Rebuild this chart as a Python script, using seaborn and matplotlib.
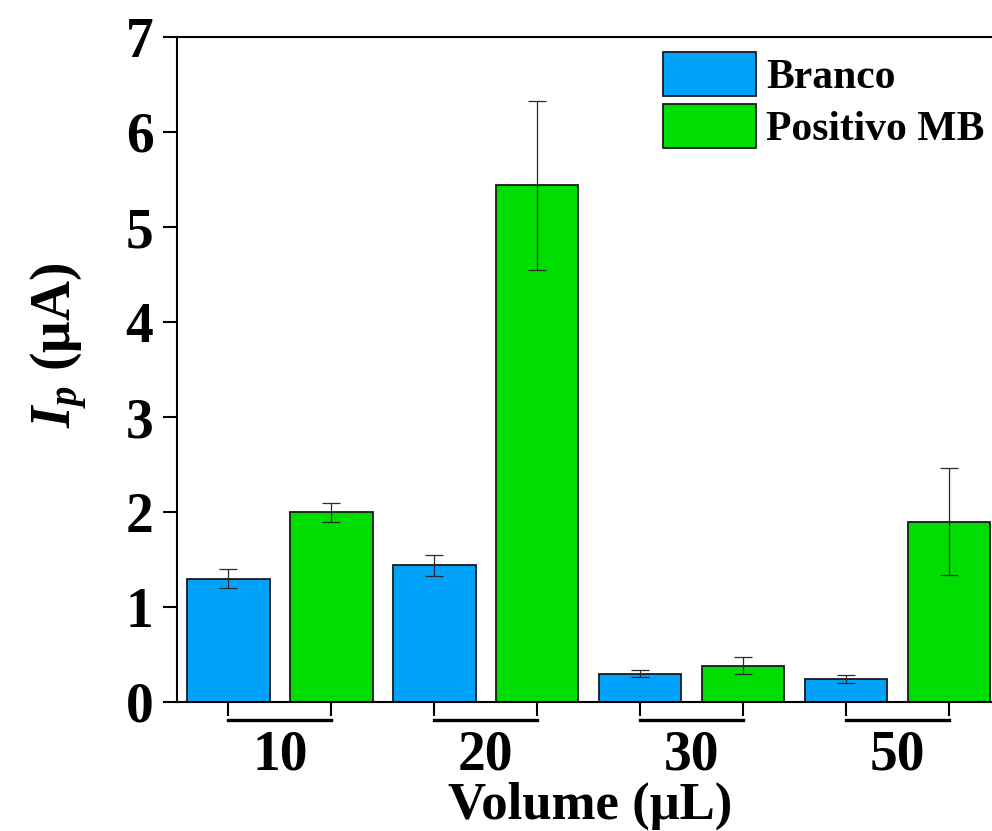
import matplotlib
matplotlib.use("Agg")
import matplotlib.pyplot as plt
import matplotlib.transforms as mtransforms
import numpy as np
import pandas as pd
import seaborn as sns

# Sample volumes and peak currents (mean and deviation, in µA)
volumes = ["10", "20", "30", "50"]
series = ["Branco", "Positivo MB"]
branco_mean = [1.30, 1.44, 0.30, 0.24]
branco_err = [0.10, 0.11, 0.04, 0.04]
positivo_mean = [2.00, 5.44, 0.38, 1.90]
positivo_err = [0.10, 0.89, 0.09, 0.56]
colors = ["#00A2FA", "#00DD00"]

df = pd.DataFrame({
    "Volume": volumes * 2,
    "Serie": [series[0]] * 4 + [series[1]] * 4,
    "Ip": branco_mean + positivo_mean,
    "err": branco_err + positivo_err,
})

sns.set_theme(style="white")
plt.rcParams["font.family"] = ["Liberation Serif", "DejaVu Serif"]
plt.rcParams["font.weight"] = "bold"
plt.rcParams["text.color"] = "black"
plt.rcParams["axes.labelcolor"] = "black"
plt.rcParams["mathtext.fontset"] = "custom"
plt.rcParams["mathtext.bfit"] = "Liberation Serif:bold:italic"
plt.rcParams["mathtext.it"] = "Liberation Serif:italic"
plt.rcParams["mathtext.rm"] = "Liberation Serif"

fig = plt.figure(figsize=(9.92, 8.31), dpi=100)
ax_w = (1000.5 - 177)
ax_h = (702 - 37)
ax = fig.add_axes([177 / 992, 1 - 702 / 831, ax_w / 992, ax_h / 831])

sns.barplot(data=df, x="Volume", y="Ip", hue="Serie", order=volumes,
            hue_order=series, palette=colors, width=1.0, gap=0.2,
            errorbar=None, edgecolor="#1a1a1a", linewidth=1.3, ax=ax,
            saturation=1)

# Error bars at the bar centres
centers = []
for cont, errs in zip(ax.containers, [branco_err, positivo_err]):
    for rect, e in zip(cont.patches, errs):
        cx = rect.get_x() + rect.get_width() / 2
        h = rect.get_height()
        centers.append(cx)
        ax.errorbar(cx, h, yerr=e, fmt="none", ecolor="#2a2a2a",
                    elinewidth=0.9, capsize=6.5, capthick=0.9, zorder=5)

ax.set_xlim(-0.5, 3.5)
ax.set_ylim(0, 7)
ax.set_yticks(range(0, 8))
ax.tick_params(axis="y", which="major", direction="out", length=10,
               width=1.5, pad=7, labelsize=40, left=True, colors="black")

# Bar-centre ticks joined by a bracket below each volume group
centers = sorted(centers)
ax.set_xticks(centers)
ax.set_xticklabels([""] * len(centers))
ax.set_xticks(range(len(volumes)), minor=True)
ax.set_xticklabels(volumes, minor=True)
ax.tick_params(axis="x", which="major", direction="out", length=10,
               width=1.5, bottom=True, color="black")
ax.tick_params(axis="x", which="minor", length=0, pad=20, labelsize=40,
               labelcolor="black")
for lab in ax.get_xticklabels(minor=True) + ax.get_yticklabels():
    lab.set_fontweight("bold")

trans = mtransforms.blended_transform_factory(ax.transData, ax.transAxes)
bracket_y = -(720 - 702) / ax_h
for i in range(len(volumes)):
    x0, x1 = centers[2 * i], centers[2 * i + 1]
    ax.plot([x0, x1], [bracket_y, bracket_y], transform=trans, color="black",
            lw=2.4, solid_capstyle="projecting", clip_on=False)

for side in ["left", "bottom", "top"]:
    ax.spines[side].set_visible(True)
    ax.spines[side].set_color("black")
    ax.spines[side].set_linewidth(1.5)
ax.spines["right"].set_visible(False)

ax.set_xlabel("Volume (μL)", fontsize=38, fontweight="bold", color="black")
ax.xaxis.set_label_coords((590 - 177) / ax_w, -(782 - 702) / ax_h)
ax.set_ylabel(r"$\mathbfit{I}_{\mathbfit{p}}$ (μA)", fontsize=40,
              fontweight="bold", color="black")
ax.yaxis.set_label_coords(-(177 - 90) / ax_w, (702 - 345) / ax_h)

leg = ax.legend(loc="upper left",
                bbox_to_anchor=((663 - 177) / ax_w, (702 - 52) / ax_h),
                frameon=False,
                prop={"family": "Liberation Serif", "weight": "bold", "size": 30},
                handlelength=2.23, handleheight=1.25, labelspacing=0.16,
                handletextpad=0.25, borderaxespad=0, borderpad=0)
for t in leg.get_texts():
    t.set_color("black")

fig.savefig("out.png", dpi=100)
